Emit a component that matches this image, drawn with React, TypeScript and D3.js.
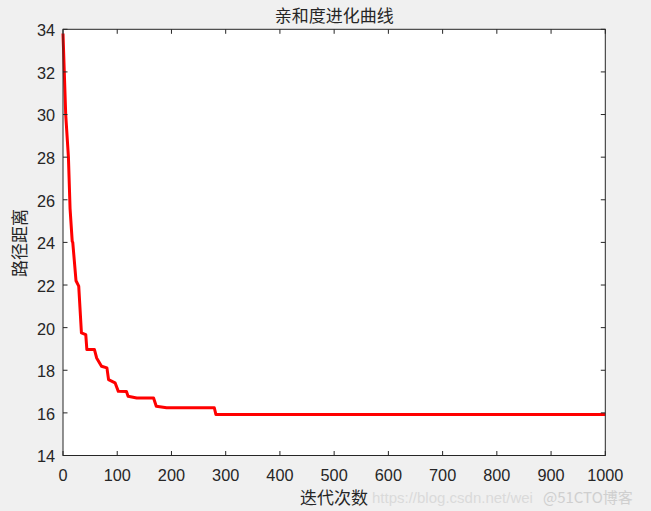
import React, { useEffect, useRef } from "react";
import * as d3 from "d3";

// iteration / best path length
const iterations = [0, 5, 10, 13, 17, 18, 24, 29, 34, 42, 44, 58, 62, 71, 81, 84, 96, 102, 117, 120, 136, 167, 172, 191, 279, 282, 1000];
const distances = [33.8, 30.0, 28.0, 25.6, 24.05, 24.0, 22.2, 21.95, 19.75, 19.67, 18.97, 18.97, 18.58, 18.19, 18.11, 17.56, 17.41, 17.01, 17.0, 16.78, 16.7, 16.7, 16.31, 16.24, 16.24, 15.92, 15.92];

const xTicks = [0, 100, 200, 300, 400, 500, 600, 700, 800, 900, 1000];
const yTicks = [14, 16, 18, 20, 22, 24, 26, 28, 30, 32, 34];

const titleText = "亲和度进化曲线";
const xLabelText = "迭代次数";
const yLabelText = "路径距离";

export default function App() {
    const svgRef = useRef<SVGSVGElement | null>(null);

    useEffect(() => {
        if (!svgRef.current) return;
        const width = 651;
        const height = 511;
        const margin = { top: 29.3, right: 45.7, bottom: 55.5, left: 63 };
        const svg = d3.select(svgRef.current);
        svg.selectAll("*").remove();

        const ink = "#262626";
        const cjk = "'Noto Sans CJK SC', sans-serif";
        const latin = "'Liberation Sans', Arial, sans-serif";

        svg.append("rect").attr("width", width).attr("height", height).attr("fill", "#f0f0f0");

        const x = d3.scaleLinear().domain([0, 1000]).range([margin.left, width - margin.right]);
        const y = d3.scaleLinear().domain([14, 34]).range([height - margin.bottom, margin.top]);

        svg.append("rect")
            .attr("x", x(0))
            .attr("y", y(34))
            .attr("width", x(1000) - x(0))
            .attr("height", y(14) - y(34))
            .attr("fill", "#ffffff");

        const points = iterations.map((it, i) => [it, distances[i]] as [number, number]);
        const line = d3.line<[number, number]>()
            .x(d => x(d[0]))
            .y(d => y(d[1]));

        svg.append("path")
            .datum(points)
            .attr("d", line)
            .attr("fill", "none")
            .attr("stroke", "#ff0000")
            .attr("stroke-width", 3)
            .attr("stroke-linejoin", "round");

        // box axes with inward ticks (MATLAB style)
        const tickLen = 4.5;
        const axisG = svg.append("g").attr("stroke", ink).attr("stroke-width", 1).attr("fill", "none");
        axisG.append("rect")
            .attr("x", x(0))
            .attr("y", y(34))
            .attr("width", x(1000) - x(0))
            .attr("height", y(14) - y(34));
        xTicks.forEach(t => {
            axisG.append("line").attr("x1", x(t)).attr("x2", x(t)).attr("y1", y(14)).attr("y2", y(14) - tickLen);
            axisG.append("line").attr("x1", x(t)).attr("x2", x(t)).attr("y1", y(34)).attr("y2", y(34) + tickLen);
        });
        yTicks.forEach(t => {
            axisG.append("line").attr("x1", x(0)).attr("x2", x(0) + tickLen).attr("y1", y(t)).attr("y2", y(t));
            axisG.append("line").attr("x1", x(1000)).attr("x2", x(1000) - tickLen).attr("y1", y(t)).attr("y2", y(t));
        });

        svg.append("g")
            .selectAll("text")
            .data(xTicks)
            .join("text")
            .attr("x", d => x(d))
            .attr("y", y(14) + 25)
            .attr("text-anchor", "middle")
            .attr("fill", ink)
            .style("font-family", latin)
            .style("font-size", "16.3px")
            .text(d => String(d));

        svg.append("g")
            .selectAll("text")
            .data(yTicks)
            .join("text")
            .attr("x", x(0) - 8)
            .attr("y", d => y(d) + 1)
            .attr("dy", "0.36em")
            .attr("text-anchor", "end")
            .attr("fill", ink)
            .style("font-family", latin)
            .style("font-size", "16.3px")
            .text(d => String(d));

        svg.append("text")
            .attr("x", (x(0) + x(1000)) / 2)
            .attr("y", 22)
            .attr("text-anchor", "middle")
            .attr("fill", ink)
            .style("font-family", cjk)
            .style("font-size", "17px")
            .text(titleText);

        // faint watermark
        svg.append("text")
            .attr("x", 372)
            .attr("y", 503)
            .attr("fill", "#dadada")
            .style("font-family", latin)
            .style("font-size", "15px")
            .text("https://blog.csdn.net/wei");
        svg.append("text")
            .attr("x", 543)
            .attr("y", 503)
            .attr("fill", "#cfcfcf")
            .style("font-family", cjk)
            .style("font-size", "15px")
            .text("@51CTO博客");

        svg.append("text")
            .attr("x", 334)
            .attr("y", 504)
            .attr("text-anchor", "middle")
            .attr("fill", ink)
            .style("font-family", cjk)
            .style("font-size", "17px")
            .text(xLabelText);

        svg.append("text")
            .attr("transform", `translate(26,243) rotate(-90)`)
            .attr("text-anchor", "middle")
            .attr("fill", ink)
            .style("font-family", cjk)
            .style("font-size", "17px")
            .text(yLabelText);
    }, []);

    return (
        <svg
            ref={svgRef}
            width={651}
            height={511}
            style={{ position: "absolute", left: 0, top: 0, display: "block" }}
        />
    );
}
